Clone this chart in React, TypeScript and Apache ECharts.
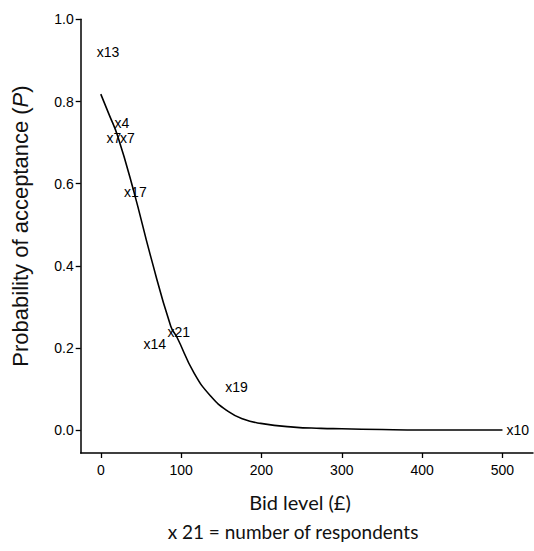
import React, { useEffect, useRef } from "react";
import * as echarts from "echarts";

// Fitted curve: [bid level (£), probability]
const curveBids = [0, 10, 21, 41, 62, 87, 95, 116, 137, 158, 178, 199, 240, 274, 300, 350, 400, 450, 500];
const curveProbs = [0.818, 0.77, 0.716, 0.582, 0.424, 0.254, 0.226, 0.14, 0.083, 0.047, 0.027, 0.017, 0.008, 0.005, 0.004, 0.002, 0.001, 0.001, 0.001];

// Observed points and their respondent counts
const obsBids = [0, 22, 12, 29, 34, 88, 58, 160, 510];
const obsProbs = [0.921, 0.748, 0.712, 0.712, 0.581, 0.239, 0.211, 0.105, 0.002];
const obsCounts = [13, 4, 7, 7, 17, 21, 14, 19, 10];

const xTicks = [0, 100, 200, 300, 400, 500];
const yTicks = [0, 0.2, 0.4, 0.6, 0.8, 1.0];

export default function App() {
  const ref = useRef<HTMLDivElement>(null);
  useEffect(() => {
    if (!ref.current) return;
    const chart = echarts.init(ref.current, undefined, { renderer: "svg" });
    const tickFont = "'Liberation Sans', Arial, sans-serif";
    const titleFont = "Lato, 'Liberation Sans', sans-serif";
    chart.setOption({
      animation: false,
      backgroundColor: "#ffffff",
      grid: { left: 80.7, right: 1, top: 19.3, bottom: 98, containLabel: false },
      xAxis: {
        type: "value",
        min: -25,
        max: 538,
        splitLine: { show: false },
        axisLine: { show: true, onZero: false, lineStyle: { color: "#000", width: 1.5 } },
        axisTick: { show: true, inside: false, length: 5, customValues: xTicks, lineStyle: { color: "#000", width: 1.3 } },
        axisLabel: { customValues: xTicks, margin: 10, color: "#000", fontSize: 14, fontFamily: tickFont, formatter: (v: number) => String(v) },
      },
      yAxis: {
        type: "value",
        min: -0.055,
        max: 1.0,
        splitLine: { show: false },
        axisLine: { show: true, onZero: false, lineStyle: { color: "#000", width: 1.5 } },
        axisTick: { show: true, inside: false, length: 5, customValues: yTicks, lineStyle: { color: "#000", width: 1.3 } },
        axisLabel: { customValues: yTicks, margin: 7, color: "#000", fontSize: 14, fontFamily: tickFont, formatter: (v: number) => v.toFixed(1) },
      },
      series: [
        {
          type: "line",
          data: curveBids.map((b, i) => [b, curveProbs[i]]),
          smooth: 0.5,
          showSymbol: false,
          symbol: "none",
          lineStyle: { color: "#000", width: 1.6 },
        },
        {
          type: "scatter",
          data: obsBids.map((b, i) => [b, obsProbs[i]]),
          symbolSize: 0,
          itemStyle: { color: "#000", opacity: 0 },
          label: {
            show: true,
            position: "inside",
            align: "left",
            verticalAlign: "middle",
            offset: [-4, 0],
            color: "#000",
            opacity: 1,
            textBorderWidth: 0,
            fontSize: 14,
            fontFamily: tickFont,
            formatter: (p: any) => "x" + obsCounts[p.dataIndex],
          },
        },
      ],
      graphic: [
        {
          type: "text",
          x: 20,
          y: 226,
          rotation: Math.PI / 2,
          style: {
            text: "Probability of acceptance ({i|P})",
            fill: "#111",
            font: "22px 'Liberation Sans', Arial, sans-serif",
            align: "center",
            verticalAlign: "middle",
            rich: { i: { fontStyle: "italic", fontSize: 22, fontFamily: "'Liberation Sans', Arial, sans-serif", fill: "#111" } },
          },
        },
        {
          type: "text",
          x: 300,
          y: 502,
          style: { text: "Bid level (£)", fill: "#111", font: `20px ${titleFont}`, align: "center", verticalAlign: "middle" },
        },
        {
          type: "text",
          x: 293,
          y: 531,
          style: { text: "x 21 = number of respondents", fill: "#111", font: `19px ${titleFont}`, align: "center", verticalAlign: "middle" },
        },
      ],
    });
    return () => chart.dispose();
  }, []);
  return <div ref={ref} style={{ width: 534, height: 551, position: "absolute", left: 0, top: 0 }} />;
}
